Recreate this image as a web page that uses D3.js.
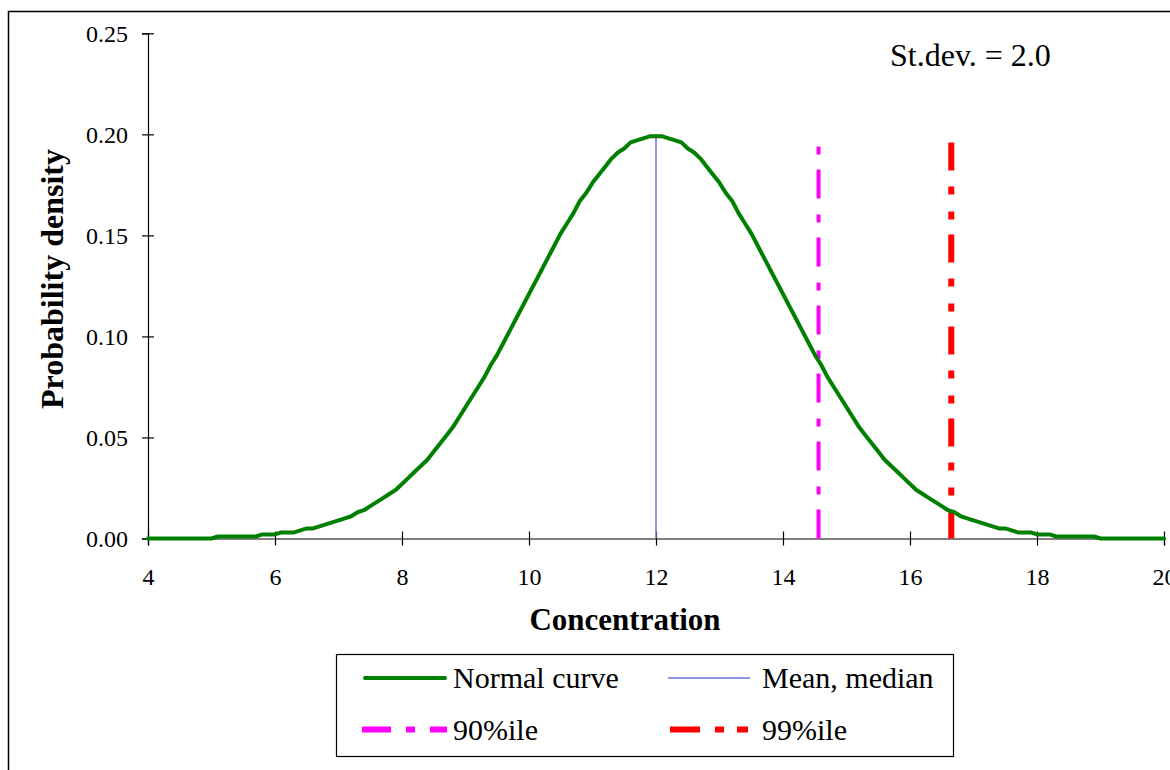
<!DOCTYPE html>
<html>
<head>
<meta charset="utf-8">
<script src="https://cdn.jsdelivr.net/npm/d3@7"></script>
<style>
  html, body { margin: 0; padding: 0; background: #fff; }
  svg { display: block; }
  text { font-family: "Liberation Serif", "Times New Roman", serif; fill: #000; }
</style>
</head>
<body>
<svg id="chart" width="1170" height="770"></svg>
<script>
// ---- Data ----
const xStart = 4, xStep = 0.1;            // concentration grid for the curve
const density = [
  0.000,0.000,0.000,0.000,0.000,0.000,0.000,0.000,0.000,0.000,
  0.000,0.001,0.001,0.001,0.001,0.001,0.001,0.001,0.002,0.002,
  0.002,0.003,0.003,0.003,0.004,0.005,0.005,0.006,0.007,0.008,
  0.009,0.010,0.011,0.013,0.014,0.016,0.018,0.020,0.022,0.024,
  0.027,0.030,0.033,0.036,0.039,0.043,0.047,0.051,0.055,0.060,
  0.065,0.070,0.075,0.080,0.086,0.091,0.097,0.103,0.109,0.115,
  0.121,0.127,0.133,0.139,0.145,0.151,0.156,0.161,0.167,0.171,
  0.176,0.180,0.184,0.188,0.191,0.193,0.196,0.197,0.198,0.199,
  0.199,
  0.199,0.198,0.197,0.196,0.193,0.191,0.188,0.184,0.180,0.176,
  0.171,0.167,0.161,0.156,0.151,0.145,0.139,0.133,0.127,0.121,
  0.115,0.109,0.103,0.097,0.091,0.086,0.080,0.075,0.070,0.065,
  0.060,0.055,0.051,0.047,0.043,0.039,0.036,0.033,0.030,0.027,
  0.024,0.022,0.020,0.018,0.016,0.014,0.013,0.011,0.010,0.009,
  0.008,0.007,0.006,0.005,0.005,0.004,0.003,0.003,0.003,0.002,
  0.002,0.002,0.001,0.001,0.001,0.001,0.001,0.001,0.001,0.000,
  0.000,0.000,0.000,0.000,0.000,0.000,0.000,0.000,0.000,0.000
];
const meanValue = 12;
const meanTop = 0.20;
const p90Value = 14.56;
const p99Value = 16.65;
const pctTop = 0.20;
const xTicks = [4, 6, 8, 10, 12, 14, 16, 18, 20];
const yTicks = [0.00, 0.05, 0.10, 0.15, 0.20, 0.25];
const xTitle = "Concentration";
const yTitle = "Probability density";
const note = "St.dev. = 2.0";
const legendLabels = ["Normal curve", "Mean, median", "90%ile", "99%ile"];

// ---- Layout ----
const svg = d3.select("#chart");
const x = d3.scaleLinear().domain([4, 20]).range([148, 1164]);
const y = d3.scaleLinear().domain([0, 0.25]).range([538.5, 33.3]);
const serif = '"Liberation Serif", "Times New Roman", serif';

// outer frame (extends beyond the page at right/bottom)
svg.append("rect").attr("x", 8.5).attr("y", 11.5).attr("width", 1200).attr("height", 800)
  .attr("fill", "none").attr("stroke", "#000").attr("stroke-width", 1.5);

const curveData = density.map((d, i) => ({ x: xStart + i * xStep, y: d }));

// axes
const yAxis = svg.append("g").attr("transform", `translate(${x(4)},0)`)
  .call(d3.axisLeft(y).tickValues(yTicks).tickSizeOuter(0).tickSize(6).tickFormat(d3.format(".2f")));
yAxis.select(".domain").attr("stroke", "#000").attr("stroke-width", 1.2);
yAxis.selectAll(".tick line").attr("x1", -6).attr("x2", 6).attr("stroke", "#000").attr("stroke-width", 1.2);
yAxis.selectAll(".tick text").attr("x", -20).attr("dy", "0.34em")
  .style("font-family", serif).style("font-size", "24px").attr("fill", "#000");

const xAxis = svg.append("g").attr("transform", `translate(0,${y(0)})`)
  .call(d3.axisBottom(x).tickValues(xTicks).tickSizeOuter(0).tickSize(7).tickFormat(d3.format("d")));
xAxis.select(".domain").attr("stroke", "#000").attr("stroke-width", 1.2);
xAxis.selectAll(".tick line").attr("y1", -7).attr("y2", 7).attr("stroke", "#000").attr("stroke-width", 1.2);
xAxis.selectAll(".tick text").attr("y", 46.5).attr("dy", 0)
  .style("font-family", serif).style("font-size", "24px").attr("fill", "#000");

// mean line
svg.append("line").attr("x1", x(meanValue)).attr("x2", x(meanValue))
  .attr("y1", y(0)).attr("y2", y(meanTop))
  .attr("stroke", "#6f6fe6").attr("stroke-width", 1.5);

// percentile lines (drawn from bottom up so the pattern starts at the axis)
svg.append("line").attr("x1", x(p90Value)).attr("x2", x(p90Value))
  .attr("y1", y(0)).attr("y2", y(pctTop))
  .attr("stroke", "#ff00ff").attr("stroke-width", 4).attr("stroke-dasharray", "29,15,8,16");
svg.append("line").attr("x1", x(p99Value)).attr("x2", x(p99Value))
  .attr("y1", y(0)).attr("y2", y(pctTop))
  .attr("stroke", "#ff0000").attr("stroke-width", 6).attr("stroke-dasharray", "28,15,8,17,8,16");

// normal curve
const line = d3.line().x(d => x(d.x)).y(d => y(d.y));
svg.append("path").datum(curveData).attr("d", line)
  .attr("fill", "none").attr("stroke", "#008000").attr("stroke-width", 4)
  .attr("stroke-linejoin", "round").attr("stroke-linecap", "round");

// titles
svg.append("text").attr("x", 625).attr("y", 630).attr("text-anchor", "middle")
  .style("font-family", serif).style("font-size", "31px").style("font-weight", "bold").text(xTitle);
svg.append("text").attr("transform", "translate(63,279) rotate(-90)").attr("text-anchor", "middle")
  .style("font-family", serif).style("font-size", "32px").style("font-weight", "bold").text(yTitle);
svg.append("text").attr("x", 890).attr("y", 66)
  .style("font-family", serif).style("font-size", "32px").text(note);

// legend
const lg = svg.append("g");
lg.append("rect").attr("x", 336.5).attr("y", 654.5).attr("width", 617).attr("height", 102)
  .attr("fill", "#fff").attr("stroke", "#000").attr("stroke-width", 1.2);
const legendItems = [
  { label: legendLabels[0], x0: 365, x1: 445, tx: 453, ly: 678, color: "#008000", w: 4, dash: null, cap: "round" },
  { label: legendLabels[1], x0: 668, x1: 750, tx: 762, ly: 678, color: "#6f6fe6", w: 1.3, dash: null, cap: "butt" },
  { label: legendLabels[2], x0: 362, x1: 447, tx: 453, ly: 729.5, color: "#ff00ff", w: 6, dash: "29,15,9,15", cap: "butt" },
  { label: legendLabels[3], x0: 670, x1: 748, tx: 762, ly: 729.5, color: "#ff0000", w: 6, dash: "30,15,9,13", cap: "butt" }
];
legendItems.forEach(it => {
  const l = lg.append("line").attr("x1", it.x0).attr("x2", it.x1).attr("y1", it.ly).attr("y2", it.ly)
    .attr("stroke", it.color).attr("stroke-width", it.w).attr("stroke-linecap", it.cap);
  if (it.dash) l.attr("stroke-dasharray", it.dash);
  lg.append("text").attr("x", it.tx).attr("y", it.ly + 10)
    .style("font-family", serif).style("font-size", "30px").text(it.label);
});
</script>
</body>
</html>
